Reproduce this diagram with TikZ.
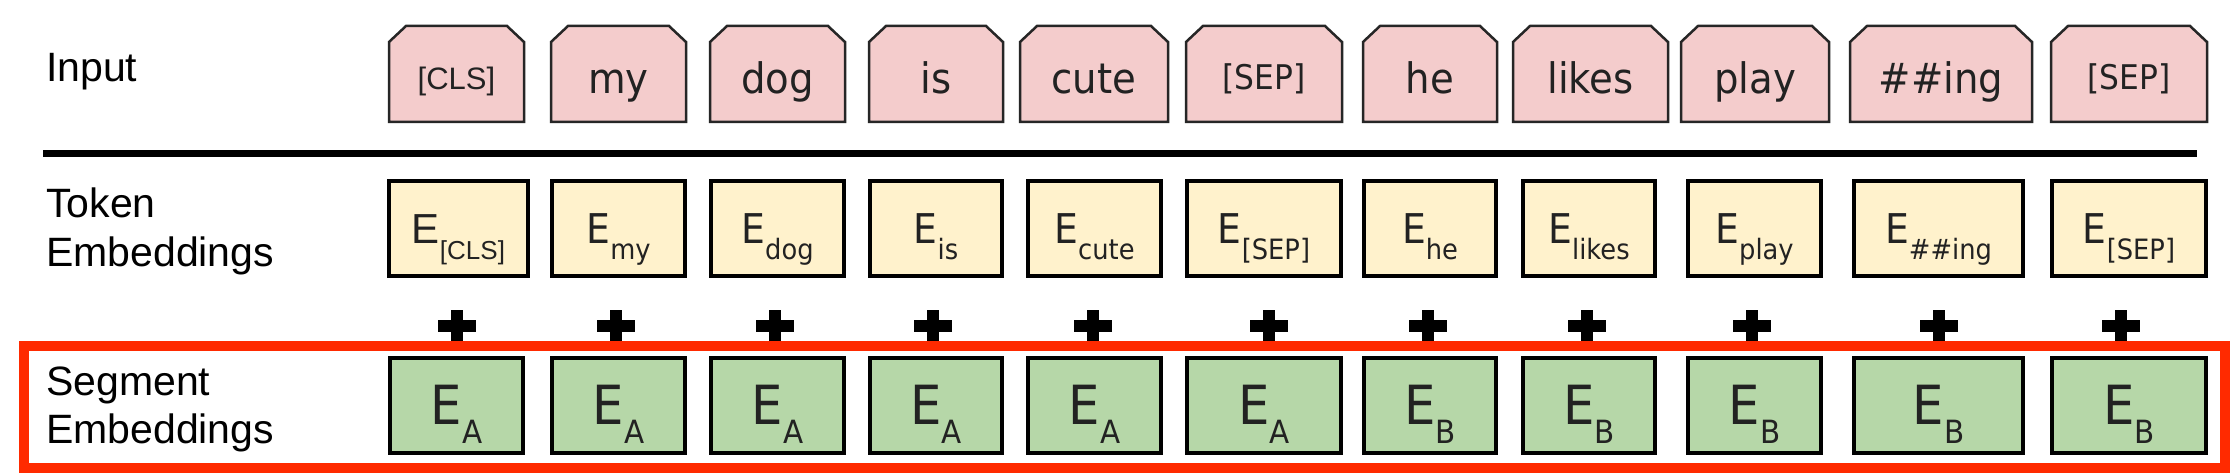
\documentclass[tikz,border=0pt]{standalone}
\usepackage{fontspec}
\setmainfont{Liberation Sans}
\newfontfamily\tfont{DejaVu Sans}[FakeStretch=0.92]
\newfontfamily\afont{Liberation Sans}
\definecolor{pinkfill}{HTML}{F4CCCC}
\definecolor{yelfill}{HTML}{FFF2CC}
\definecolor{grnfill}{HTML}{B6D7A8}
\definecolor{redc}{HTML}{FF2A00}
\definecolor{txt}{HTML}{222222}
\newcommand\ysub[1]{E\raisebox{-17pt}{\fontsize{28}{28}\selectfont #1}}
\newcommand\gsub[1]{E\raisebox{-19pt}{\fontsize{32}{32}\selectfont #1}}
\newcommand\ptok[5]{%
  \draw[pinkline] (#2+1,122) -- (#2+1,42) -- (#2+18,26) -- (#3-18,26) -- (#3-1,42) -- (#3-1,122) -- cycle;
  \node[ptext] (#1) at ({(#2+#3)/2},#4) {#5};}
\newcommand\ytok[4]{%
  \node[ybox, minimum width={#3-#2-4}] (#1) at ({(#2+#3)/2},228.5) {#4};}
\newcommand\gtok[4]{%
  \node[gbox, minimum width={#3-#2-4}] (#1) at ({(#2+#3)/2},405.5) {#4};}
\newcommand\plusmark[1]{%
  \draw[plusbar] (#1-19,326) -- (#1+19,326);
  \draw[plusbar] (#1,310) -- (#1,344);}
\begin{document}
\begin{tikzpicture}[x=1pt,y=-1pt,
  pinkline/.style={draw=black!85, line width=2.5pt, fill=pinkfill, line join=miter},
  ptext/.style={inner sep=0, anchor=base, text=txt, font=\tfont\fontsize{42}{42}\selectfont},
  ybox/.style={draw=black, line width=4pt, fill=yelfill, inner sep=0, minimum height=95pt, text height=29pt, text depth=0pt, text=txt, font=\tfont\fontsize{41}{41}\selectfont},
  gbox/.style={draw=black, line width=4pt, fill=grnfill, inner sep=0, minimum height=95pt, text height=37pt, text depth=0pt, text=txt, font=\tfont\fontsize{54}{54}\selectfont},
  plusbar/.style={line width=12pt, draw=black},
  lab/.style={inner sep=0, anchor=base west, text=black},
]
\useasboundingbox (0,0) rectangle (2231,476);
\fill[white] (0,0) rectangle (2231,476);

% labels
\node[lab, font=\fontsize{41}{49}\selectfont] (inp) at (46,82) {Input};
\node[lab, font=\fontsize{41}{49}\selectfont] (tokl) at (46,218) {\begin{tabular}[t]{@{}l@{}}Token\\Embeddings\end{tabular}};
\node[lab, font=\fontsize{41}{48}\selectfont] (segl) at (46,395) {\begin{tabular}[t]{@{}l@{}}Segment\\Embeddings\end{tabular}};

% input tokens
\ptok{p1}{388}{525}{90}{\afont\fontsize{31}{31}\selectfont [CLS]}
\ptok{p2}{550}{687}{94}{my}
\ptok{p3}{709}{846}{94}{dog}
\ptok{p4}{868}{1004}{93.5}{is}
\ptok{p5}{1019}{1169}{93.5}{cute}
\ptok{p6}{1185}{1343}{90}{\fontsize{34}{34}\selectfont [SEP]}
\ptok{p7}{1362}{1498}{93.5}{he}
\ptok{p8}{1512}{1669}{93.5}{likes}
\ptok{p9}{1680}{1830}{93.5}{play}
\ptok{p10}{1849}{2033}{93.5}{\#\#ing}
\ptok{p11}{2050}{2208}{90}{\fontsize{34}{34}\selectfont [SEP]}

% separator
\draw[line width=7pt] (43,154) -- (2197,154);

% token embeddings
\ytok{y1}{387}{530}{\afont\fontsize{42}{42}\selectfont E\raisebox{-17pt}{\fontsize{26}{26}\selectfont [CLS]}}
\ytok{y2}{550}{687}{\ysub{my}}
\ytok{y3}{709}{846}{\ysub{dog}}
\ytok{y4}{868}{1004}{\ysub{is}}
\ytok{y5}{1026}{1163}{\ysub{cute}}
\ytok{y6}{1185}{1343}{\ysub{[SEP]}}
\ytok{y7}{1362}{1498}{\ysub{he}}
\ytok{y8}{1521}{1657}{\ysub{likes}}
\ytok{y9}{1686}{1823}{\ysub{play}}
\ytok{y10}{1852}{2025}{\ysub{\#\#ing}}
\ytok{y11}{2050}{2208}{\ysub{[SEP]}}

% plus signs
\plusmark{457}
\plusmark{616}
\plusmark{775}
\plusmark{933}
\plusmark{1093}
\plusmark{1269}
\plusmark{1428}
\plusmark{1587}
\plusmark{1752}
\plusmark{1939}
\plusmark{2121}

% segment embeddings
\gtok{g1}{388}{525}{\gsub{A}}
\gtok{g2}{550}{687}{\gsub{A}}
\gtok{g3}{709}{846}{\gsub{A}}
\gtok{g4}{868}{1004}{\gsub{A}}
\gtok{g5}{1026}{1163}{\gsub{A}}
\gtok{g6}{1185}{1343}{\gsub{A}}
\gtok{g7}{1362}{1498}{\gsub{B}}
\gtok{g8}{1521}{1657}{\gsub{B}}
\gtok{g9}{1686}{1823}{\gsub{B}}
\gtok{g10}{1852}{2025}{\gsub{B}}
\gtok{g11}{2050}{2208}{\gsub{B}}

% red highlight
\draw[draw=redc, line width=10pt] (24,346) rectangle (2225,468);
\end{tikzpicture}
\end{document}
